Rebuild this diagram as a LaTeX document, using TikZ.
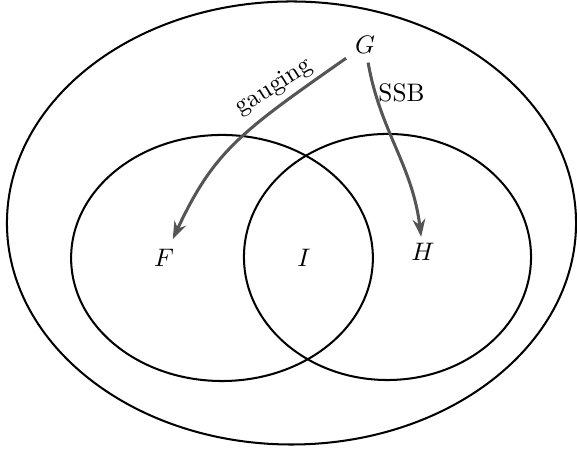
\documentclass[tikz,border=0pt]{standalone}
\usetikzlibrary{arrows.meta}
\definecolor{arrowgray}{RGB}{85,85,85}
\begin{document}
\begin{tikzpicture}[x=0.395pt, y=-0.395pt,
  setline/.style={draw=black, line width=0.8pt},
  arr/.style={draw=arrowgray, line width=1.2pt, -{Stealth[length=7pt,width=5pt]}},
  lbl/.style={inner sep=3.33pt}]
\useasboundingbox (0,0) rectangle (577,452);
\draw[setline] (291.5,223) ellipse [x radius=112.4pt, y radius=87.5pt];
\draw[setline] (222,258) ellipse [x radius=59.6pt, y radius=48.6pt];
\draw[setline] (387.5,257) ellipse [x radius=56.7pt, y radius=48.6pt];
\node[lbl] (G) at (365,45) {$G$};
\node[lbl] (F) at (164,258) {$F$};
\node[lbl] (I) at (304,258) {$I$};
\node[lbl] (H) at (423,252) {$H$};
\draw[arr, shorten >=0.5pt] (G) to[out=215, in=65, out looseness=1.3] (F);
\draw[arr, shorten >=-1pt] (G) to[out=-80, in=97] (H);
\node[anchor=base, rotate=32, inner sep=0pt] (gauge) at (277,92) {gauging};
\node[inner sep=0pt] (ssb) at (401.5,92.5) {SSB};
\end{tikzpicture}
\end{document}
